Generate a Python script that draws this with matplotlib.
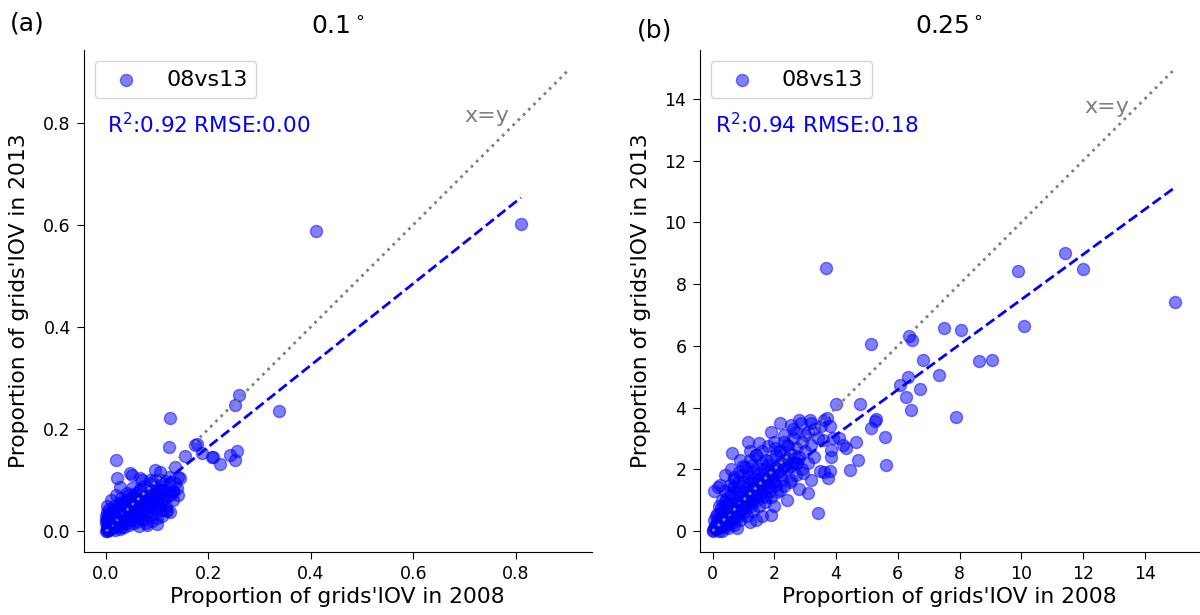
import matplotlib
matplotlib.use("Agg")
import matplotlib.pyplot as plt

# ---------------- data ----------------
# Panel (a) 0.1 degree
a_x = [0.81, 0.41, 0.26, 0.252, 0.337, 0.177, 0.154, 0.187, 0.206, 0.242, 0.256, 0.252, 0.222,
       0.125, 0.122, 0.208, 0.135, 0.019, 0.021, 0.050, 0.027, 0.066, 0.086, 0.105, 0.122, 0.144,
       0.138, 0.125, 0.099, 0.079, 0.112, 0.047, 0.070, 0.096, 0.174, 0.118, 0.131, 0.140, 0.111,
       0.000, 0.002, 0.004, 0.005, 0.008, 0.003, 0.010, 0.012, 0.006, 0.015, 0.002, 0.010, 0.018,
       0.020, 0.014, 0.008, 0.022, 0.025, 0.004, 0.016, 0.028, 0.030, 0.012, 0.024, 0.034, 0.036,
       0.020, 0.030, 0.040, 0.042, 0.006, 0.045, 0.050, 0.035, 0.052, 0.056, 0.048, 0.060, 0.025,
       0.040, 0.060, 0.065, 0.070, 0.055, 0.070, 0.075, 0.080, 0.045, 0.080, 0.085, 0.090, 0.065,
       0.090, 0.095, 0.100, 0.075, 0.100, 0.105, 0.110, 0.085, 0.110, 0.115, 0.120, 0.125, 0.130,
       0.095, 0.060, 0.070, 0.085, 0.095, 0.105, 0.118, 0.130, 0.140, 0.135, 0.015, 0.030, 0.020,
       0.040, 0.050, 0.010, 0.002, 0.000, 0.000, 0.035, 0.045, 0.055, 0.028, 0.075, 0.090, 0.100,
       0.110, 0.120, 0.080, 0.065,
       0.001, 0.003, 0.006, 0.007, 0.009, 0.011, 0.013, 0.016, 0.017, 0.019, 0.021, 0.023, 0.026,
       0.027, 0.029, 0.032, 0.033, 0.035, 0.038, 0.041, 0.043, 0.046, 0.049, 0.051, 0.054, 0.057,
       0.061, 0.063, 0.067, 0.072, 0.074, 0.078, 0.083, 0.087, 0.092, 0.097, 0.102, 0.108, 0.012,
       0.018, 0.024, 0.030, 0.036, 0.045, 0.052, 0.058, 0.066, 0.018, 0.030, 0.040, 0.050, 0.058,
       0.068, 0.078, 0.088, 0.098, 0.106, 0.114, 0.124, 0.008, 0.004, 0.001, 0.000, 0.002]
a_y = [0.602, 0.587, 0.267, 0.247, 0.236, 0.170, 0.147, 0.152, 0.146, 0.149, 0.157, 0.139, 0.131,
       0.222, 0.165, 0.146, 0.125, 0.139, 0.103, 0.110, 0.087, 0.103, 0.100, 0.116, 0.106, 0.103,
       0.084, 0.038, 0.014, 0.015, 0.080, 0.114, 0.100, 0.120, 0.169, 0.041, 0.077, 0.106, 0.100,
       0.000, 0.004, 0.002, 0.008, 0.005, 0.012, 0.010, 0.006, 0.016, 0.012, 0.020, 0.018, 0.008,
       0.016, 0.024, 0.028, 0.022, 0.012, 0.032, 0.032, 0.026, 0.018, 0.038, 0.036, 0.030, 0.020,
       0.044, 0.042, 0.036, 0.026, 0.044, 0.045, 0.034, 0.050, 0.050, 0.040, 0.022, 0.030, 0.055,
       0.060, 0.056, 0.045, 0.036, 0.065, 0.062, 0.052, 0.040, 0.070, 0.070, 0.058, 0.048, 0.078,
       0.078, 0.066, 0.055, 0.088, 0.085, 0.072, 0.060, 0.095, 0.095, 0.080, 0.068, 0.090, 0.078,
       0.100, 0.020, 0.022, 0.030, 0.035, 0.042, 0.050, 0.060, 0.070, 0.095, 0.050, 0.065, 0.070,
       0.075, 0.085, 0.060, 0.050, 0.030, 0.015, 0.008, 0.012, 0.015, 0.004, 0.025, 0.020, 0.025,
       0.030, 0.040, 0.012, 0.010,
       0.001, 0.006, 0.003, 0.010, 0.013, 0.008, 0.015, 0.018, 0.011, 0.021, 0.014, 0.026, 0.019,
       0.030, 0.022, 0.034, 0.025, 0.038, 0.029, 0.041, 0.031, 0.040, 0.046, 0.038, 0.052, 0.045,
       0.048, 0.058, 0.052, 0.058, 0.066, 0.062, 0.066, 0.072, 0.060, 0.075, 0.066, 0.080, 0.030,
       0.036, 0.045, 0.052, 0.058, 0.062, 0.068, 0.075, 0.082, 0.002, 0.008, 0.016, 0.024, 0.032,
       0.040, 0.048, 0.055, 0.045, 0.052, 0.062, 0.070, 0.022, 0.026, 0.008, 0.022, 0.038]

# Panel (b) 0.25 degree
b_x = [14.97, 12.01, 11.43, 9.89, 10.08, 3.66, 7.49, 8.06, 8.62, 9.06, 7.90, 7.32, 6.82, 6.36,
       6.47, 6.33, 6.06, 6.71, 6.44, 6.28, 5.14, 4.01, 4.76, 5.28, 3.14, 3.70, 5.25, 5.14, 5.57,
       5.63, 4.66, 4.71, 4.44, 4.33, 4.22, 3.41, 3.74, 3.79, 3.49, 3.85, 3.85, 3.57, 3.90, 2.55,
       2.87, 2.98, 2.71, 1.14, 0.63, 0.17, 3.09, 1.90, 1.42, 2.17, 2.01, 2.44, 2.33, 2.93, 2.55,
       2.71, 2.17, 1.74, 1.31, 1.74, 1.42, 1.04, 0.71, 0.66,
       0.0, 0.05, 0.1, 0.1, 0.2, 0.15, 0.25, 0.3, 0.2, 0.35, 0.4, 0.3, 0.45, 0.5, 0.25, 0.4, 0.55,
       0.6, 0.5, 0.65, 0.7, 0.35, 0.6, 0.75, 0.8, 0.5, 0.7, 0.85, 0.9, 0.45, 0.8, 0.95, 1.0, 0.6,
       0.9, 1.05, 1.1, 0.75, 1.0, 1.15, 1.2, 0.85, 1.1, 1.25, 1.3, 1.0, 1.2, 1.35, 1.4, 1.15, 1.35,
       1.5, 1.55, 1.3, 1.5, 1.65, 1.7, 1.45, 1.65, 1.8, 1.85, 1.6, 1.8, 1.95, 2.0, 1.9, 2.1, 2.2,
       2.05, 2.3, 2.4, 2.2, 2.5, 2.6, 2.4, 2.7, 2.8, 2.6, 2.9, 3.0, 3.2, 3.1, 3.3, 3.4, 3.5,
       0.3, 0.5, 0.7, 0.9, 1.1, 1.3, 1.5, 1.7, 1.9, 2.1, 2.3, 2.5, 2.7, 2.9, 3.1, 3.3, 0.8, 1.2,
       1.6, 2.0, 2.4, 2.8, 3.2, 3.6,
       0.1, 0.2, 0.3, 0.4, 0.55, 0.7, 0.85, 1.0, 1.2, 1.4, 1.6, 1.8, 2.0, 2.3, 2.6, 0.05, 0.25,
       0.4, 0.6, 0.9, 1.2, 1.5, 1.9, 2.2, 2.8, 3.2, 3.6, 3.8, 4.1,
       0.02, 0.08, 0.12, 0.18, 0.22, 0.28, 0.32, 0.38, 0.42, 0.48, 0.52, 0.58, 0.62, 0.68, 0.72,
       0.78, 0.82, 0.88, 0.92, 0.98, 1.02, 1.08, 1.12, 1.18, 1.22, 1.28, 1.32, 1.38, 1.42, 1.48,
       1.52, 1.58, 1.62, 1.72, 1.78, 1.88, 1.92, 2.02, 2.12, 2.22, 2.32, 2.45, 2.55, 2.65, 2.75,
       0.05, 0.15, 0.28, 0.40, 0.55, 0.68, 0.82, 0.95, 1.10, 1.28, 0.20, 0.45, 0.65, 0.85, 1.05,
       1.25, 1.45, 1.65, 1.85, 2.05, 2.25]
b_y = [7.41, 8.50, 9.02, 8.42, 6.63, 8.53, 6.58, 6.50, 5.52, 5.55, 3.69, 5.06, 5.55, 6.31,
       6.20, 4.98, 4.74, 4.60, 3.93, 4.33, 6.07, 4.12, 4.12, 3.63, 3.60, 3.66, 3.55, 3.33, 3.04,
       2.14, 2.90, 2.31, 1.98, 2.68, 2.79, 0.57, 1.71, 1.93, 1.93, 2.41, 2.63, 2.95, 3.01, 3.44,
       3.50, 3.12, 3.22, 2.90, 2.52, 1.42, 1.22, 0.52, 0.36, 2.58, 2.68, 2.74, 2.90, 1.87, 1.66,
       2.20, 1.33, 1.11, 1.55, 2.31, 2.47, 2.09, 1.76, 1.44,
       0.0, 0.1, 0.05, 0.2, 0.1, 0.3, 0.25, 0.15, 0.4, 0.35, 0.2, 0.5, 0.45, 0.3, 0.6, 0.6, 0.55,
       0.35, 0.7, 0.6, 0.45, 0.8, 0.8, 0.7, 0.5, 0.9, 0.9, 0.8, 0.6, 1.05, 1.0, 0.9, 0.7, 1.15,
       1.1, 1.0, 0.8, 1.3, 1.25, 1.1, 0.9, 1.45, 1.4, 1.2, 1.0, 1.6, 1.55, 1.35, 1.1, 1.75, 1.7,
       1.5, 1.2, 1.9, 1.85, 1.6, 1.35, 2.05, 2.0, 1.75, 1.45, 2.2, 2.15, 1.9, 1.6, 2.3, 2.1, 1.8,
       2.45, 2.3, 2.0, 2.6, 2.5, 2.2, 2.8, 2.7, 2.4, 3.0, 2.9, 2.6, 2.8, 3.2, 3.3, 3.0, 3.4,
       0.0, 0.1, 0.2, 0.35, 0.5, 0.65, 0.8, 0.95, 1.1, 1.25, 1.45, 1.6, 1.8, 2.0, 2.2, 2.4, 0.1, 0.3,
       0.5, 0.8, 1.0, 1.35, 1.65, 1.9,
       0.5, 0.8, 1.0, 1.3, 1.5, 1.7, 1.9, 2.1, 2.3, 2.45, 2.6, 2.75, 2.9, 3.1, 3.3, 1.3, 1.5,
       1.8, 2.0, 2.3, 2.6, 2.85, 3.2, 3.5, 3.6, 3.5, 3.6, 3.4, 3.0,
       0.02, 0.15, 0.08, 0.22, 0.15, 0.32, 0.22, 0.42, 0.30, 0.52, 0.40, 0.62, 0.48, 0.72, 0.58,
       0.82, 0.66, 0.92, 0.75, 1.02, 0.85, 1.12, 0.95, 1.22, 1.05, 1.32, 1.12, 1.42, 1.22, 1.62,
       1.35, 1.72, 1.45, 1.85, 1.55, 1.95, 1.70, 2.05, 1.90, 2.20, 2.05, 2.35, 2.10, 2.45, 2.20,
       0.35, 0.55, 0.75, 0.95, 1.20, 1.40, 1.60, 1.80, 1.95, 2.15, 0.00, 0.15, 0.30, 0.50, 0.65,
       0.82, 1.00, 1.15, 1.30, 1.50, 1.65]

# fitted lines (slope, intercept, x range) and statistics
a_fit = (0.80, 0.005, 0.0, 0.81)
b_fit = (0.73, 0.20, 0.0, 15.0)
a_diag_max = 0.9
b_diag_max = 14.9
a_stats = "R$^2$:0.92 RMSE:0.00"
b_stats = "R$^2$:0.94 RMSE:0.18"
titles = ["0.1$^\\circ$", "0.25$^\\circ$"]
panel_tags = ["(a)", "(b)"]
legend_label = "08vs13"
xlabel = "Proportion of grids'IOV in 2008"
ylabel = "Proportion of grids'IOV in 2013"

# ---------------- figure ----------------
plt.rcParams['font.family'] = ['DejaVu Sans']
fig = plt.figure(figsize=(12, 6.15), dpi=100)
ax_a = fig.add_axes([0.070, 0.1024, 0.423, 0.817])
ax_b = fig.add_axes([0.583, 0.1024, 0.416, 0.817])

panels = [
    (ax_a, a_x, a_y, a_fit, a_diag_max, a_stats, (-0.043, 0.948), (-0.041, 0.943),
     [0.0, 0.2, 0.4, 0.6, 0.8], (0.743, 0.812), 0.045),
    (ax_b, b_x, b_y, b_fit, b_diag_max, b_stats, (-0.42, 15.75), (-0.68, 15.6),
     [0, 2, 4, 6, 8, 10, 12, 14], (12.77, 13.73), 0.030),
]

for i, (ax, xs, ys, fit, dmax, stats, xl, yl, ticks, xy_pos, sx) in enumerate(panels):
    ax.scatter(xs, ys, s=75, color='blue', alpha=0.5, label=legend_label, zorder=2)
    ax.plot([0, dmax], [0, dmax], linestyle=':', color='gray', linewidth=2, zorder=3)
    slope, icpt, x0, x1 = fit
    ax.plot([x0, x1], [slope * x0 + icpt, slope * x1 + icpt], linestyle='--',
            color='blue', linewidth=2, zorder=4)
    ax.text(xy_pos[0], xy_pos[1], "x=y", color='gray', fontsize=16,
            ha='center', va='center')
    ax.text(sx, 0.850, stats, color='blue', fontsize=15.5,
            transform=ax.transAxes, ha='left', va='center')
    ax.set_xlim(*xl)
    ax.set_ylim(*yl)
    ax.set_xticks(ticks)
    ax.set_yticks(ticks)
    ax.tick_params(labelsize=12.5, length=5, pad=4.5)
    ax.spines['top'].set_visible(False)
    ax.spines['right'].set_visible(False)
    ax.set_xlabel(xlabel, fontsize=15.7, labelpad=3)
    ax.set_ylabel(ylabel, fontsize=15.7, labelpad=10)
    ax.set_title(titles[i], fontsize=18, pad=11)
    ax.legend(loc='upper left', fontsize=16, bbox_to_anchor=(0.0, 1.0))

fig.text(0.008, 0.962, panel_tags[0], fontsize=18, ha='left', va='center')
fig.text(0.531, 0.950, panel_tags[1], fontsize=18, ha='left', va='center')

fig.savefig("out.png", dpi=100)
